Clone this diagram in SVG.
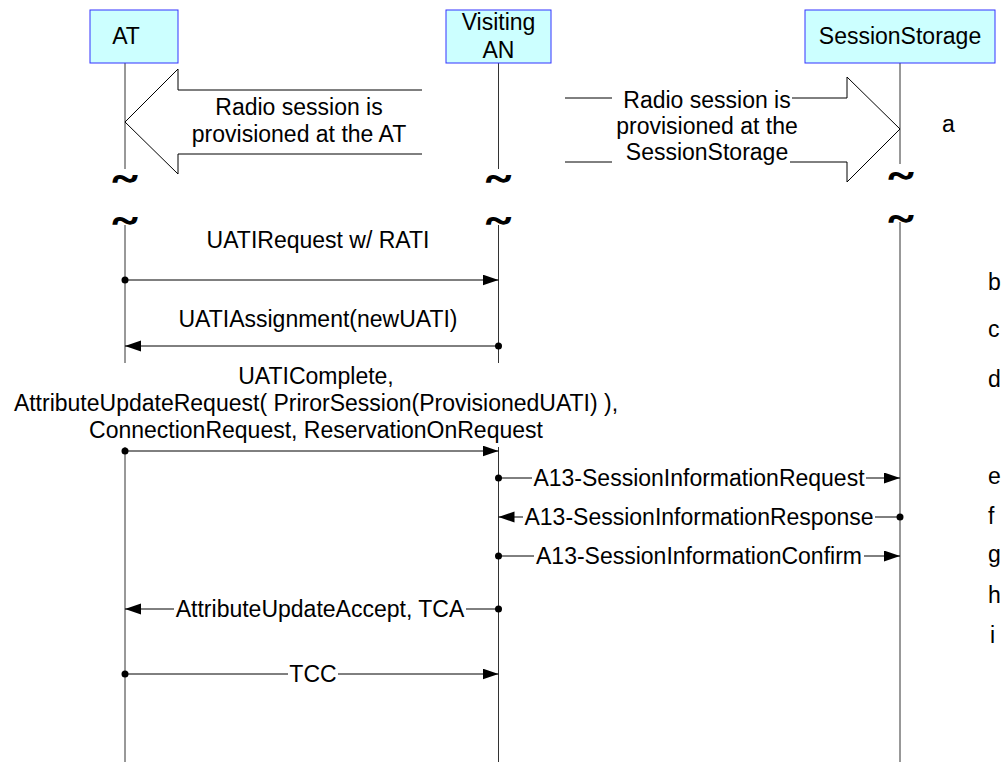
<svg xmlns="http://www.w3.org/2000/svg" width="1005" height="762" viewBox="0 0 1005 762">
<defs>
<style>
text{font-family:"Liberation Sans",Arial,sans-serif;font-size:23px;fill:#000}
.c{text-anchor:middle}
.box{fill:#ccffff;stroke:#3333ff;stroke-width:1}
.life{stroke:#333;stroke-width:1;fill:none}
.msg{stroke:#000;stroke-width:1;fill:none}
.bg{fill:#fff;stroke:none}
.big{fill:#fff;stroke:#000;stroke-width:1}
.tl{font-family:"Liberation Serif",serif;font-weight:bold;font-size:34px;text-anchor:middle;stroke:#000;stroke-width:1.3}
</style>
<marker id="ah" markerWidth="17" markerHeight="12" refX="16" refY="5.5" orient="auto" markerUnits="userSpaceOnUse"><path d="M0,0 L16,5.5 L0,11 z" fill="#000"/></marker>
<marker id="dot" markerWidth="9" markerHeight="9" refX="4.5" refY="4.5" markerUnits="userSpaceOnUse"><circle cx="4.5" cy="4.5" r="3.5" fill="#000"/></marker>
</defs>
<rect width="1005" height="762" fill="#fff"/>

<g id="lifelines">
<line class="life" x1="125" y1="63" x2="125" y2="169"/>
<line class="life" x1="125" y1="225" x2="125" y2="762"/>
<line class="life" x1="498.5" y1="63" x2="498.5" y2="169"/>
<line class="life" x1="498.5" y1="225" x2="498.5" y2="762"/>
<line class="life" x1="900" y1="63" x2="900" y2="164"/>
<line class="life" x1="900" y1="222" x2="900" y2="762"/>
<text class="tl" x="125" y="190" textLength="24" lengthAdjust="spacingAndGlyphs">~</text>
<text class="tl" x="125" y="232" textLength="24" lengthAdjust="spacingAndGlyphs">~</text>
<text class="tl" x="498.5" y="190" textLength="24" lengthAdjust="spacingAndGlyphs">~</text>
<text class="tl" x="498.5" y="232" textLength="24" lengthAdjust="spacingAndGlyphs">~</text>
<text class="tl" x="901" y="187" textLength="24" lengthAdjust="spacingAndGlyphs">~</text>
<text class="tl" x="901" y="230" textLength="24" lengthAdjust="spacingAndGlyphs">~</text>
</g>

<g id="node-AT">
<rect class="box" x="90" y="10" width="88" height="53"/>
<text class="c" x="126" y="44">AT</text>
</g>
<g id="node-VisitingAN">
<rect class="box" x="446" y="10" width="105" height="53"/>
<text class="c" x="498.5" y="30">Visiting</text>
<text class="c" x="498.5" y="58">AN</text>
</g>
<g id="node-SessionStorage">
<rect class="box" x="805" y="10" width="190" height="53"/>
<text class="c" x="900" y="44">SessionStorage</text>
</g>

<g id="provision-AT">
<polyline class="big" points="422,90 178,90 178,69 125,122 178,174 178,154 422,154"/>
<text class="c" x="299" y="115">Radio session is</text>
<text class="c" x="299" y="142">provisioned at the AT</text>
</g>
<g id="provision-SS">
<polyline class="big" points="847,98 847,77 900,129 847,182 847,162"/>
<line class="msg" x1="565" y1="98" x2="612" y2="98"/>
<line class="msg" x1="792" y1="98" x2="847" y2="98"/>
<line class="msg" x1="565" y1="162" x2="612" y2="162"/>
<line class="msg" x1="790" y1="162" x2="847" y2="162"/>
<text class="c" x="707" y="108">Radio session is</text>
<text class="c" x="707" y="134">provisioned at the</text>
<text class="c" x="707" y="160">SessionStorage</text>
</g>

<g id="connectors">
<line class="msg" x1="125" y1="280" x2="498.5" y2="280" marker-start="url(#dot)" marker-end="url(#ah)"/>
<text class="c" x="318" y="248">UATIRequest w/ RATI</text>

<line class="msg" x1="498.5" y1="346" x2="125" y2="346" marker-start="url(#dot)" marker-end="url(#ah)"/>
<text class="c" x="318" y="327">UATIAssignment(newUATI)</text>

<rect class="bg" x="8" y="363" width="612" height="84"/>
<text class="c" x="316" y="384">UATIComplete,</text>
<text class="c" x="316" y="411">AttributeUpdateRequest( PrirorSession(ProvisionedUATI) ),</text>
<text class="c" x="316" y="438">ConnectionRequest, ReservationOnRequest</text>
<line class="msg" x1="125" y1="451" x2="498.5" y2="451" marker-start="url(#dot)" marker-end="url(#ah)"/>

<line class="msg" x1="498.5" y1="478" x2="900" y2="478" marker-start="url(#dot)" marker-end="url(#ah)"/>
<rect class="bg" x="532" y="466" width="334" height="24"/>
<text class="c" x="699" y="486">A13-SessionInformationRequest</text>

<line class="msg" x1="900" y1="517" x2="498.5" y2="517" marker-start="url(#dot)" marker-end="url(#ah)"/>
<rect class="bg" x="523" y="505" width="352" height="24"/>
<text class="c" x="699" y="525">A13-SessionInformationResponse</text>

<line class="msg" x1="498.5" y1="556" x2="900" y2="556" marker-start="url(#dot)" marker-end="url(#ah)"/>
<rect class="bg" x="534" y="544" width="330" height="24"/>
<text class="c" x="699" y="564">A13-SessionInformationConfirm</text>

<line class="msg" x1="498.5" y1="609" x2="125" y2="609" marker-start="url(#dot)" marker-end="url(#ah)"/>
<rect class="bg" x="174" y="597" width="292" height="24"/>
<text class="c" x="320" y="617">AttributeUpdateAccept, TCA</text>

<line class="msg" x1="125" y1="674" x2="498.5" y2="674" marker-start="url(#dot)" marker-end="url(#ah)"/>
<rect class="bg" x="288" y="662" width="50" height="24"/>
<text class="c" x="313" y="682">TCC</text>
</g>

<g id="step-labels">
<text x="942" y="132">a</text>
<text x="988" y="290">b</text>
<text x="988" y="337">c</text>
<text x="988" y="387">d</text>
<text x="988" y="484">e</text>
<text x="988" y="524">f</text>
<text x="988" y="562">g</text>
<text x="988" y="603">h</text>
<text x="990" y="643">i</text>
</g>
</svg>
